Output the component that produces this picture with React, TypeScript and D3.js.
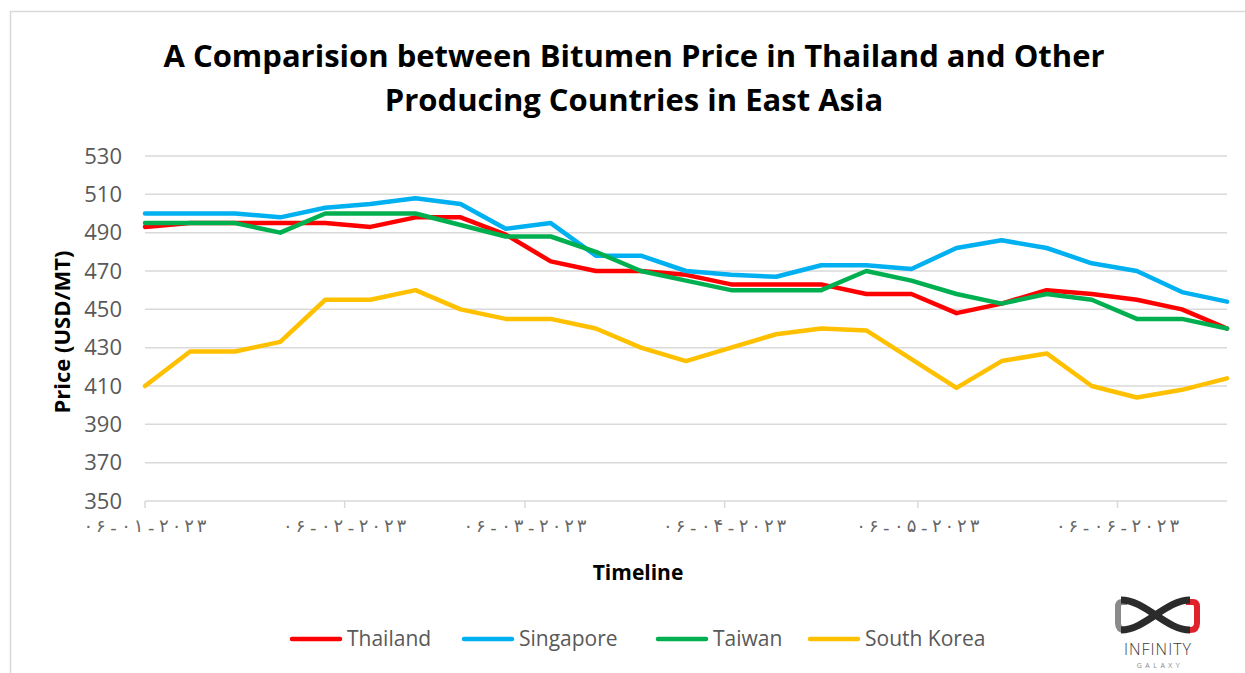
import * as d3 from 'd3';

const dates = [
  '2023-01-06', '2023-01-13', '2023-01-20', '2023-01-27', '2023-02-03', '2023-02-10', '2023-02-17',
  '2023-02-24', '2023-03-03', '2023-03-10', '2023-03-17', '2023-03-24', '2023-03-31', '2023-04-07',
  '2023-04-14', '2023-04-21', '2023-04-28', '2023-05-05', '2023-05-12', '2023-05-19', '2023-05-26',
  '2023-06-02', '2023-06-09', '2023-06-16', '2023-06-23',
];
const tickDates = ['2023-01-06', '2023-02-06', '2023-03-06', '2023-04-06', '2023-05-06', '2023-06-06'];
const yTicks = [350, 370, 390, 410, 430, 450, 470, 490, 510, 530];

const thailand = [493, 495, 495, 495, 495, 493, 498, 498, 489, 475, 470, 470, 468, 463, 463, 463, 458, 458, 448, 453, 460, 458, 455, 450, 440];
const singapore = [500, 500, 500, 498, 503, 505, 508, 505, 492, 495, 478, 478, 470, 468, 467, 473, 473, 471, 482, 486, 482, 474, 470, 459, 454];
const taiwan = [495, 495, 495, 490, 500, 500, 500, 494, 488, 488, 480, 470, 465, 460, 460, 460, 470, 465, 458, 453, 458, 455, 445, 445, 440];
const southKorea = [410, 428, 428, 433, 455, 455, 460, 450, 445, 445, 440, 430, 423, 430, 437, 440, 439, 424, 409, 423, 427, 410, 404, 408, 414];

const series = [
  { name: 'Thailand', color: '#FF0000', values: thailand },
  { name: 'Singapore', color: '#00B0F0', values: singapore },
  { name: 'Taiwan', color: '#00B050', values: taiwan },
  { name: 'South Korea', color: '#FFC000', values: southKorea },
];

const legendX = [290, 462, 656, 808];

const W = 1245;
const H = 673;
const plot = { left: 145, right: 1227, top: 156, bottom: 501 };
const FONT = '"Open Sans", "Noto Sans", sans-serif';

const parse = d3.timeParse('%Y-%m-%d');
const persian = '۰۱۲۳۴۵۶۷۸۹';
const fmt = d3.timeFormat('%d-%m-%Y');
const toPersian = (s: string) => s.replace(/[0-9]/g, (c) => persian[+c]);

export default function App() {
  const parsed = dates.map((d) => parse(d) as Date);
  const x = d3.scaleTime().domain([parsed[0], parsed[parsed.length - 1]]).range([plot.left, plot.right]);
  const y = d3.scaleLinear().domain([350, 530]).range([plot.bottom, plot.top]);

  const line = d3
    .line<number>()
    .x((_, i) => x(parsed[i]))
    .y((d) => y(d));

  // Chrome ignores letter-spacing on Arabic-script runs, so space the glyphs by hand
  const step = 12.6;

  return (
    <svg width={W} height={H} style={{ position: 'absolute', left: 0, top: 0, background: '#fff' }}>
      <rect x={10.5} y={11.5} width={1240} height={670} fill="#fff" stroke="#d9d9d9" strokeWidth={1.5} />

      {/* title */}
      <text x={634} y={67} textAnchor="middle" fontFamily={FONT} fontWeight={700} fontSize={31} fill="#000">
        A Comparision between Bitumen Price in Thailand and Other
      </text>
      <text x={634} y={111} textAnchor="middle" fontFamily={FONT} fontWeight={700} fontSize={31} fill="#000">
        Producing Countries in East Asia
      </text>

      {/* grid */}
      {yTicks.map((t) => (
        <g key={t}>
          <line x1={plot.left} x2={plot.right} y1={y(t)} y2={y(t)} stroke="#d9d9d9" strokeWidth={1.5} />
          <text x={122} y={y(t)} dy="0.35em" textAnchor="end" fontFamily={FONT} fontSize={22} fill="#595959">
            {t}
          </text>
        </g>
      ))}

      {/* x axis ticks */}
      {tickDates.map((d) => {
        const dt = parse(d) as Date;
        const tx = x(dt);
        const chars = Array.from(toPersian(fmt(dt)));
        const start = tx - ((chars.length - 1) * step) / 2;
        return (
          <g key={d}>
            <line x1={tx} x2={tx} y1={plot.bottom} y2={plot.bottom + 7} stroke="#d9d9d9" strokeWidth={1.5} />
            <text textAnchor="middle" fontFamily='"DejaVu Sans", sans-serif' fontSize={18} fill="#666">
              {chars.map((c, i) => (
                <tspan key={i} x={start + i * step} y={c === '-' ? 534 : 532}>
                  {c}
                </tspan>
              ))}
            </text>
          </g>
        );
      })}

      {/* lines */}
      {series.map((s) => (
        <path key={s.name} d={line(s.values) || ''} fill="none" stroke={s.color} strokeWidth={4.5} strokeLinejoin="round" strokeLinecap="round" />
      ))}

      {/* axis titles */}
      <text transform="translate(70,332) rotate(-90)" textAnchor="middle" fontFamily={FONT} fontWeight={700} fontSize={22} fill="#000">
        Price (USD/MT)
      </text>
      <text x={638} y={580} textAnchor="middle" fontFamily={FONT} fontWeight={700} fontSize={21} fill="#000">
        Timeline
      </text>

      {/* legend */}
      {series.map((s, i) => (
        <g key={s.name}>
          <line x1={legendX[i] + 2} x2={legendX[i] + 50} y1={639} y2={639} stroke={s.color} strokeWidth={4.5} strokeLinecap="round" />
          <text x={legendX[i] + 57} y={639} dy="0.35em" fontFamily={FONT} fontSize={21} fill="#595959">
            {s.name}
          </text>
        </g>
      ))}

      {/* logo */}
      <g fill="none">
        <path d="M1127,602 L1122,602 Q1118,602 1118,607 L1118,623 Q1118,630 1125,630" stroke="#8a8a8a" strokeWidth={6} />
        <path d="M1186,602 L1193,602 Q1197,602 1197,607 L1197,623 Q1197,630 1190,630" stroke="#e0202a" strokeWidth={6} />
        <path d="M1121,600 C1145,600 1166,630 1190,630" stroke="#2b2b2b" strokeWidth={7} />
        <path d="M1121,630 C1145,630 1166,600 1190,600" stroke="#2b2b2b" strokeWidth={7} />
      </g>
      <text x={1158} y={655} textAnchor="middle" fontFamily={FONT} fontSize={16} fontWeight={300} fill="#3a3a3a" letterSpacing={1}>
        INFINITY
      </text>
      <text x={1160} y={668} textAnchor="middle" fontFamily={FONT} fontSize={7} fill="#8a8a8a" letterSpacing={3.5}>
        GALAXY
      </text>
    </svg>
  );
}
